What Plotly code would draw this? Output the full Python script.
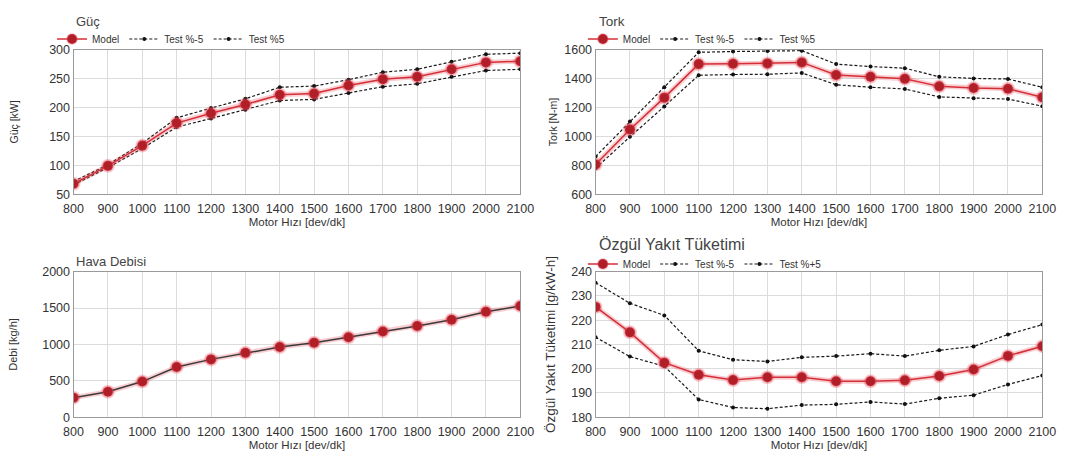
import plotly.graph_objects as go

rpm = [800, 900, 1000, 1100, 1200, 1300, 1400, 1500, 1600, 1700, 1800, 1900, 2000, 2100]

guc_model = [68, 99, 134, 173, 190, 205, 222, 224, 238, 249, 253, 266, 278, 280]
guc_low = [66, 96, 129, 166, 181, 196, 212, 214, 225, 236, 241, 253, 264, 266]
guc_high = [72, 101, 138, 182, 199, 215, 235, 237, 248, 261, 266, 279, 292, 294]

tork_model = [805, 1048, 1268, 1500, 1502, 1505, 1512, 1425, 1412, 1398, 1346, 1335, 1330, 1270]
tork_low = [779, 997, 1207, 1423, 1428, 1430, 1439, 1357, 1340, 1328, 1273, 1264, 1258, 1209]
tork_high = [860, 1103, 1340, 1582, 1587, 1590, 1593, 1500, 1483, 1472, 1412, 1401, 1397, 1340]

debi_model = [269, 350, 490, 690, 795, 885, 965, 1025, 1100, 1178, 1255, 1340, 1450, 1530]

bsfc_model = [225.5, 215, 202.5, 197.5, 195.3, 196.5, 196.5, 194.8, 194.8, 195.2, 197, 199.7, 205.3, 209.3]
bsfc_low = [213, 205, 201, 187.3, 184, 183.5, 185, 185.3, 186.3, 185.4, 187.8, 189.1, 193.5, 197.2]
bsfc_high = [235.5, 227, 222, 207.4, 203.7, 203, 204.7, 205.2, 206.2, 205.2, 207.6, 209.2, 214.1, 218.2]

W, H = 1071, 463
FONT = "Liberation Sans, Arial, sans-serif"
RED = "#d42f37"
DRED = "#b01e28"
HALO = "rgba(235,80,95,0.28)"

def px_x(a, b):
    return [a / W, b / W]

def px_y(top, bottom):
    return [1 - bottom / H, 1 - top / H]

LX = px_x(65, 522)
RX = px_x(599, 1056)
TY = px_y(44, 193)
BY = px_y(273, 423)

fig = go.Figure()

def model_trace(x, y, xa, ya, legend, show, linecolor=RED):
    fig.add_trace(go.Scatter(x=x, y=y, xaxis=xa, yaxis=ya, mode="lines+markers",
                             line=dict(color=HALO, width=5),
                             marker=dict(size=14, color=HALO),
                             showlegend=False, hoverinfo="skip"))
    fig.add_trace(go.Scatter(x=x, y=y, xaxis=xa, yaxis=ya, mode="lines+markers", name="Model",
                             line=dict(color=linecolor, width=1.5),
                             marker=dict(size=10, color=DRED, line=dict(color=HALO, width=2)),
                             legend=legend, showlegend=show, legendrank=1))

def test_trace(x, y, xa, ya, name, legend, rank):
    fig.add_trace(go.Scatter(x=x, y=y, xaxis=xa, yaxis=ya, mode="lines+markers", name=name,
                             line=dict(color="#1a1a1a", width=1.2, dash="3px,2px"),
                             marker=dict(size=4, color="#111"),
                             legend=legend, legendrank=rank))

# Güç
test_trace(rpm, guc_high, "x", "y", "Test %5", "legend", 3)
test_trace(rpm, guc_low, "x", "y", "Test %-5", "legend", 2)
model_trace(rpm, guc_model, "x", "y", "legend", True)

# Tork
test_trace(rpm, tork_high, "x2", "y2", "Test %5", "legend2", 3)
test_trace(rpm, tork_low, "x2", "y2", "Test %-5", "legend2", 2)
model_trace(rpm, tork_model, "x2", "y2", "legend2", True)

# Hava Debisi
model_trace(rpm, debi_model, "x3", "y3", "legend", False, linecolor="#3a3a3a")

# Özgül Yakıt Tüketimi
test_trace(rpm, bsfc_high, "x4", "y4", "Test %+5", "legend3", 3)
test_trace(rpm, bsfc_low, "x4", "y4", "Test %-5", "legend3", 2)
model_trace(rpm, bsfc_model, "x4", "y4", "legend3", True)

tickfont = dict(family=FONT, size=12.5, color="#333")

def xaxis(domain, anchor):
    return dict(domain=domain, anchor=anchor, range=[800, 2100], dtick=100, tick0=800,
                showgrid=True, gridcolor="#dcdcdc", gridwidth=1, zeroline=False,
                showline=True, linecolor="#9a9a9a", linewidth=1, mirror=True,
                ticks="", tickfont=tickfont, ticklabelstandoff=3,
                title=dict(text="Motor Hızı [dev/dk]",
                           font=dict(family=FONT, size=11.5, color="#333"), standoff=0))

def yaxis(domain, anchor, rng, dtick, title, size, standoff):
    return dict(domain=domain, anchor=anchor, range=rng, dtick=dtick,
                showgrid=True, gridcolor="#dcdcdc", gridwidth=1, zeroline=False,
                showline=True, linecolor="#9a9a9a", linewidth=1, mirror=True,
                ticks="", tickfont=tickfont,
                title=dict(text=title, font=dict(family=FONT, size=size, color="#333"),
                           standoff=standoff))

legend_common = dict(orientation="h", font=dict(family=FONT, size=10, color="#333"),
                     bgcolor="rgba(0,0,0,0)", itemwidth=30, tracegroupgap=0,
                     xanchor="left", yanchor="middle", traceorder="normal",
                     itemclick=False, itemdoubleclick=False)

fig.update_layout(
    width=W, height=H,
    margin=dict(l=0, r=0, t=0, b=0),
    paper_bgcolor="white", plot_bgcolor="white",
    font=dict(family=FONT, color="#333"),
    xaxis=xaxis(LX, "y"),
    yaxis=yaxis(TY, "x", [50, 300], 50, "Güç [kW]", 10.5, 28),
    xaxis2=xaxis(RX, "y2"),
    yaxis2=yaxis(TY, "x2", [600, 1600], 200, "Tork [N-m]", 10.5, 4),
    xaxis3=xaxis(LX, "y3"),
    yaxis3=yaxis(BY, "x3", [0, 2000], 500, "Debi [kg/h]", 11, 22),
    xaxis4=xaxis(RX, "y4"),
    yaxis4=yaxis(BY, "x4", [180, 240], 10, "Özgül Yakıt Tüketimi [g/kW-h]", 13.5, 12),
    legend=dict(x=43 / W, y=1 - 33 / H, **legend_common),
    legend2=dict(x=586 / W, y=1 - 33 / H, **legend_common),
    legend3=dict(x=586 / W, y=1 - 265 / H, **legend_common),
    showlegend=True,
)

titles = [("Güç", 65, 15, 13), ("Tork", 600, 15, 13.5), ("Hava Debisi", 65, 262, 13),
          ("Özgül Yakıt Tüketimi", 600, 245, 16)]
for t, x, y, s in titles:
    fig.add_annotation(text=t, x=x / W, y=1 - y / H, xref="paper", yref="paper",
                       xanchor="left", yanchor="middle", showarrow=False,
                       font=dict(family=FONT, size=s, color="#444"))

fig.write_html("out.html")
